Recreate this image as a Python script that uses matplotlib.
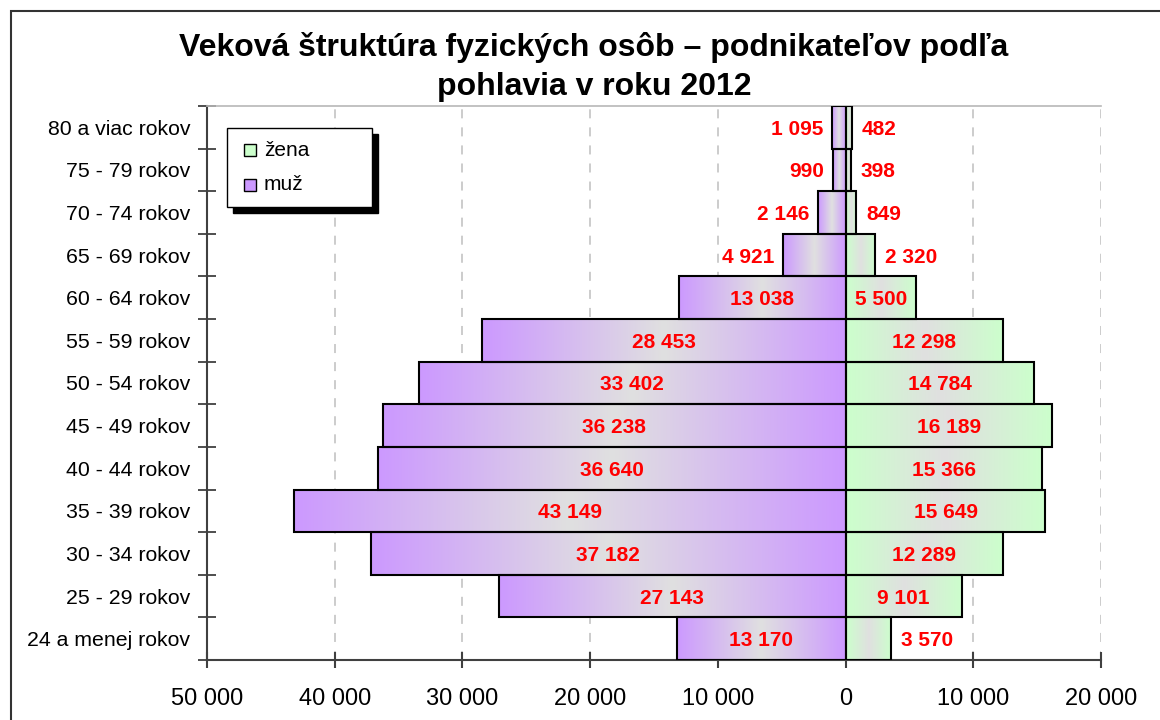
import matplotlib
matplotlib.use("Agg")
import matplotlib.pyplot as plt
import numpy as np
from matplotlib.colors import to_rgb
from matplotlib.patches import Rectangle
from matplotlib.transforms import Affine2D

plt.rcParams['font.family'] = ['Liberation Sans', 'DejaVu Sans']

categories = ["24 a menej rokov", "25 - 29 rokov", "30 - 34 rokov", "35 - 39 rokov",
              "40 - 44 rokov", "45 - 49 rokov", "50 - 54 rokov", "55 - 59 rokov",
              "60 - 64 rokov", "65 - 69 rokov", "70 - 74 rokov", "75 - 79 rokov",
              "80 a viac rokov"]
muz = [13170, 27143, 37182, 43149, 36640, 36238, 33402, 28453, 13038, 4921, 2146, 990, 1095]
zena = [3570, 9101, 12289, 15649, 15366, 16189, 14784, 12298, 5500, 2320, 849, 398, 482]
xticks = [-50000, -40000, -30000, -20000, -10000, 0, 10000, 20000]
xticklabels = ["50 000", "40 000", "30 000", "20 000", "10 000", "0", "10 000", "20 000"]
legend_labels = ["žena", "muž"]
title = "Veková štruktúra fyzických osôb – podnikateľov podľa\npohlavia v roku 2012"

PURPLE = "#cc99ff"
GRAY = "#e0e0e0"
GREEN = "#ccffcc"


def fmt(v):
    return f"{v:,}".replace(",", " ")


def gradient(edge, center, n=256):
    a = np.array(to_rgb(edge))
    b = np.array(to_rgb(center))
    t = 1 - np.abs(np.linspace(-1, 1, n))
    t = t[None, :, None]
    return a + (b - a) * t


W, H = 1160, 720
fig = plt.figure(figsize=(W / 100, H / 100), dpi=100)
ax = fig.add_axes([207 / W, 1 - 660 / H, (1101 - 207) / W, (660 - 106) / H])

y = np.arange(len(categories))
gm = gradient(PURPLE, GRAY)
gz = gradient(GREEN, GRAY)
for i, (m, z) in enumerate(zip(muz, zena)):
    ax.imshow(gm, extent=[-m, 0, i - 0.5, i + 0.5], aspect='auto', origin='lower',
              interpolation='bilinear', zorder=2)
    ax.imshow(gz, extent=[0, z, i - 0.5, i + 0.5], aspect='auto', origin='lower',
              interpolation='bilinear', zorder=2)

ax.barh(y, [-m for m in muz], height=1.0, fill=False, edgecolor='black', linewidth=1.5, zorder=3)
ax.barh(y, zena, height=1.0, fill=False, edgecolor='black', linewidth=1.5, zorder=3)

ax.set_xlim(-50000, 20000)
ax.set_ylim(-0.5, len(categories) - 0.5)
ax.set_aspect('auto')

lab_kw = dict(color='red', fontsize=15, fontweight='bold', va='center_baseline', zorder=4)
for i, (m, z) in enumerate(zip(muz, zena)):
    if m >= 10000:
        ax.text(-m / 2, i, fmt(m), ha='center', **lab_kw)
    else:
        ax.annotate(fmt(m), xy=(-m, i), xytext=(-6, 0), textcoords='offset points',
                    ha='right', **lab_kw)
    if z >= 5000:
        ax.text(z / 2, i, fmt(z), ha='center', **lab_kw)
    else:
        ax.annotate(fmt(z), xy=(z, i), xytext=(7, 0), textcoords='offset points',
                    ha='left', **lab_kw)

# grid
for xv in xticks[1:]:
    ax.axvline(xv, color='#c8c8c8', linestyle=(0, (5, 5)), linewidth=1.3, zorder=1)

ax.set_xticks(xticks)
ax.set_xticklabels(xticklabels, fontsize=17)
ax.tick_params(axis='x', direction='inout', length=11, width=1.5, color='#404040', pad=15)

ax.set_yticks(y)
ax.set_yticklabels(categories, fontsize=15.3)
ax.set_yticks(np.arange(-0.5, len(categories), 1.0), minor=True)
ax.tick_params(axis='y', which='major', length=0, pad=12)
ax.tick_params(axis='y', which='minor', direction='inout', length=13, width=1.3, color='#404040')

ax.spines['right'].set_visible(False)
ax.spines['top'].set_color('#b8b8b8')
ax.spines['top'].set_linewidth(1.2)
for s in ['left', 'bottom']:
    ax.spines[s].set_color('#404040')
    ax.spines[s].set_linewidth(1.5)

# legend drawn manually (pixel coordinates, origin top-left)
px = Affine2D().scale(1 / W, -1 / H).translate(0, 1) + fig.transFigure
fig.patches.append(Rectangle((233, 134), 145, 79, transform=px, facecolor='black',
                             edgecolor='black', zorder=5))
fig.patches.append(Rectangle((227, 128), 145, 79, transform=px, facecolor='white',
                             edgecolor='black', linewidth=1.0, zorder=6))
for k, (lab, col) in enumerate(zip(legend_labels, [GREEN, PURPLE])):
    yc = 150 + 35 * k
    fig.patches.append(Rectangle((244, yc - 6), 12, 12, transform=px, facecolor=col,
                                 edgecolor='black', linewidth=1.0, zorder=7))
    fig.text(264 / W, 1 - yc / H, lab, fontsize=15, ha='left', va='center', zorder=7)

fig.text(594 / W, 1 - 32 / H, title, ha='center', va='top', fontsize=23,
         fontweight='bold', linespacing=1.38)

fig.patches.append(Rectangle((11 / W, -0.1), 1.2, 1.1 - 11 / H,
                             transform=fig.transFigure, fill=False,
                             edgecolor='#333333', linewidth=1.5))

fig.savefig("out.png", dpi=100)
